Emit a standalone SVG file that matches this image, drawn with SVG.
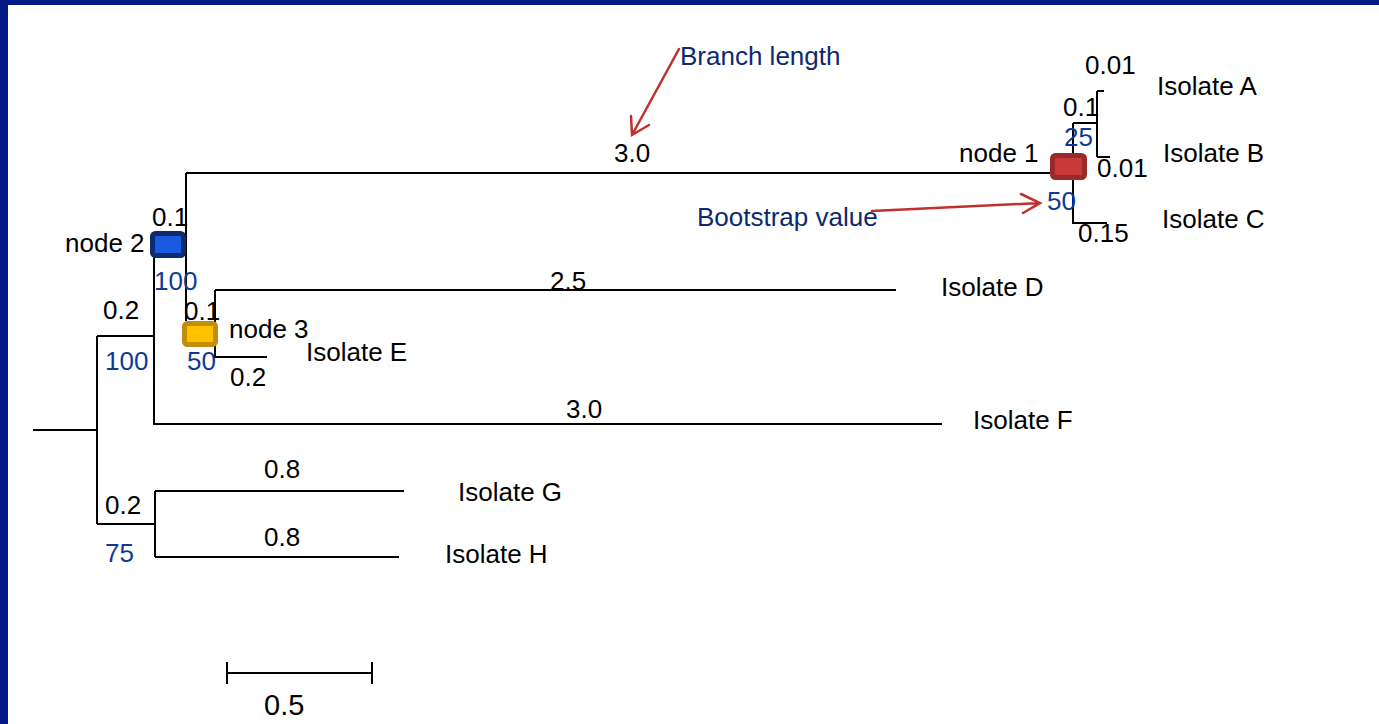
<svg xmlns="http://www.w3.org/2000/svg" width="1379" height="724" viewBox="0 0 1379 724">
  <defs>
    <style>
      .br { fill: none; stroke: #000; stroke-width: 2; }
      .lbl { font-family: "Liberation Sans", Arial, sans-serif; font-size: 26px; fill: #000; }
      .bs { font-family: "Liberation Sans", Arial, sans-serif; font-size: 26px; fill: #0e3a96; }
      .note { font-family: "Liberation Sans", Arial, sans-serif; font-size: 26px; fill: #0c2a6e; }
      .ptr { fill: none; stroke: #c0302e; stroke-width: 2.5; stroke-linecap: round; }
    </style>
  </defs>

  <!-- page frame -->
  <rect x="0" y="0" width="1379" height="724" fill="#fff"/>
  <rect x="0" y="0" width="1379" height="5" fill="#031a84"/>
  <rect x="0" y="0" width="8" height="724" fill="#031a84"/>

  <!-- tree branches -->
  <g id="connectors">
    <path class="br" d="M33,430 H97 M97,336 V524 M97,336 H154 M154,255 V424 H942"/>
    <path class="br" d="M186,173 H1050 M186,173 V321"/>
    <path class="br" d="M215,290 H896 M215,290 V357 H267 M215,330 H218"/>
    <path class="br" d="M97,524 H155 M155,491 V557 M155,491 H404 M155,557 H399"/>
    <path class="br" d="M1073,123 V223 H1107 M1073,123 H1097 M1097,91 V157 M1097,91 H1104 M1097,157 H1110"/>
  </g>

  <!-- branch lengths -->
  <g id="branch-lengths">
    <text class="lbl" x="614" y="162">3.0</text>
    <text class="lbl" x="550" y="290">2.5</text>
    <text class="lbl" x="566" y="418">3.0</text>
    <text class="lbl" x="264" y="478">0.8</text>
    <text class="lbl" x="264" y="546">0.8</text>
    <text class="lbl" x="105" y="514">0.2</text>
    <text class="lbl" x="103" y="319">0.2</text>
    <text class="lbl" x="152" y="226">0.1</text>
    <text class="lbl" x="184" y="320">0.1</text>
    <text class="lbl" x="230" y="386">0.2</text>
    <text class="lbl" x="1063" y="116">0.1</text>
    <text class="lbl" x="1085" y="74">0.01</text>
    <text class="lbl" x="1097" y="177">0.01</text>
    <text class="lbl" x="1078" y="242">0.15</text>
  </g>

  <!-- bootstrap values -->
  <g id="bootstrap-values">
    <text class="bs" x="154" y="290">100</text>
    <text class="bs" x="105" y="370">100</text>
    <text class="bs" x="187" y="370">50</text>
    <text class="bs" x="105" y="562">75</text>
    <text class="bs" x="1064" y="146">25</text>
    <text class="bs" x="1047" y="210">50</text>
  </g>

  <!-- internal nodes -->
  <g id="node-2">
    <rect x="152.5" y="233.5" width="31" height="22" rx="3" fill="#1a5ae0" stroke="#0d2a6e" stroke-width="5"/>
    <text class="lbl" x="65" y="252">node 2</text>
  </g>
  <g id="node-3">
    <rect x="184.5" y="323.5" width="31" height="21" rx="3" fill="#ffc000" stroke="#c28d0a" stroke-width="5"/>
    <text class="lbl" x="229" y="338">node 3</text>
  </g>
  <g id="node-1">
    <rect x="1052.5" y="155.5" width="32" height="22" rx="3" fill="#c83a3a" stroke="#9a2a2a" stroke-width="5"/>
    <text class="lbl" x="959" y="162">node 1</text>
  </g>

  <!-- leaves -->
  <g id="isolate-a"><text class="lbl" x="1157" y="95">Isolate A</text></g>
  <g id="isolate-b"><text class="lbl" x="1163" y="162">Isolate B</text></g>
  <g id="isolate-c"><text class="lbl" x="1162" y="228">Isolate C</text></g>
  <g id="isolate-d"><text class="lbl" x="941" y="296">Isolate D</text></g>
  <g id="isolate-e"><text class="lbl" x="306" y="361">Isolate E</text></g>
  <g id="isolate-f"><text class="lbl" x="973" y="429">Isolate F</text></g>
  <g id="isolate-g"><text class="lbl" x="458" y="501">Isolate G</text></g>
  <g id="isolate-h"><text class="lbl" x="445" y="563">Isolate H</text></g>

  <!-- callouts -->
  <g id="callout-branch-length">
    <text class="note" x="680" y="65">Branch length</text>
    <path class="ptr" d="M679,49 L632,135 M631,116 L632,135 L649,125"/>
  </g>
  <g id="callout-bootstrap">
    <text class="note" x="697" y="226">Bootstrap value</text>
    <path class="ptr" d="M872,211 L1040,203 M1021,194 L1040,203 L1023,213"/>
  </g>

  <!-- scale bar -->
  <g id="scale-bar">
    <path class="br" d="M227,673 H372 M227,662 V684 M372,662 V684"/>
    <text class="lbl" x="264" y="715" style="font-size:29px">0.5</text>
  </g>
</svg>
